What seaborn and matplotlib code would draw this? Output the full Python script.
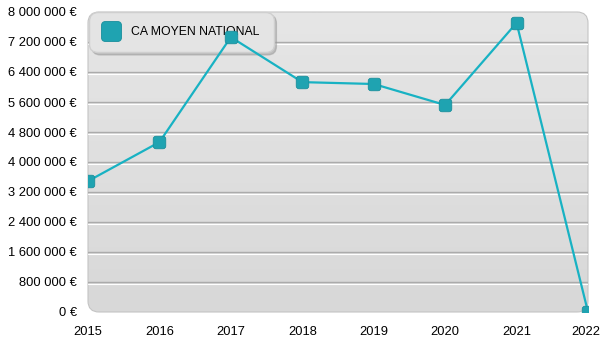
import numpy as np
import pandas as pd
import matplotlib
matplotlib.use("Agg")
import matplotlib.pyplot as plt
from matplotlib.patches import FancyBboxPatch, BoxStyle
from matplotlib.lines import Line2D
from matplotlib.ticker import FuncFormatter
from matplotlib.transforms import ScaledTranslation
import seaborn as sns

# Chiffre d'affaires moyen national par année
years = [2015, 2016, 2017, 2018, 2019, 2020, 2021, 2022]
ca_moyen = [3490000, 4530000, 7330000, 6130000, 6080000, 5520000, 7710000, 0]
series_label = "CA MOYEN NATIONAL"
y_ticks = [0, 800000, 1600000, 2400000, 3200000, 4000000, 4800000,
           5600000, 6400000, 7200000, 8000000]

df = pd.DataFrame({"annee": years, "ca": ca_moyen})

sns.set_theme(style="white")
plt.rcParams["font.family"] = ["Liberation Sans", "DejaVu Sans"]

LINE = "#18b2c3"
MARK = "#1fa3b1"
MARK_EDGE = "#1a8f9c"

fig = plt.figure(figsize=(6, 3.5), dpi=100)
W, H = 600, 350
ax = fig.add_axes([88 / W, 38 / H, 500 / W, 300 / H])
ax.patch.set_visible(False)

# rounded square marker
rsq = BoxStyle.Round(pad=0, rounding_size=0.22)(-0.5, -0.5, 1, 1, 1.0)

# rounded gradient plot background
bg = FancyBboxPatch((0, 0), 1, 1, boxstyle="round,pad=0,rounding_size=0.022",
                    mutation_aspect=500 / 300, transform=ax.transAxes,
                    facecolor="none", edgecolor="#c4c4c4", lw=0.8,
                    zorder=0.5, clip_on=False)
ax.add_patch(bg)
grad = np.linspace(0, 1, 256).reshape(-1, 1)
img = ax.imshow(grad, extent=[0, 1, 0, 1], transform=ax.transAxes,
                cmap=matplotlib.colors.LinearSegmentedColormap.from_list(
                    "bg", ["#d8d8d8", "#e6e6e6"]),
                origin="lower", aspect="auto", zorder=0.2)
img.set_clip_path(bg)

# horizontal grid: grey line with a white highlight beneath
shift = ScaledTranslation(0, -1.2 / 72, fig.dpi_scale_trans)
for v in y_ticks[1:-1]:
    ax.axhline(v, color="#ababab", lw=1.0, zorder=1)
    hl = ax.axhline(v, color="white", lw=0.8, zorder=0.9)
    hl.set_transform(hl.get_transform() + shift)

sns.lineplot(data=df, x="annee", y="ca", ax=ax, color=LINE, lw=1.6,
             marker=rsq, markersize=9, markerfacecolor=MARK,
             markeredgecolor=MARK_EDGE, markeredgewidth=0.6, zorder=3)

ax.set_xlim(2015, 2022)
ax.set_ylim(0, 8000000)
ax.set_xticks(years)
ax.set_yticks(y_ticks)
ax.yaxis.set_major_formatter(
    FuncFormatter(lambda v, p: f"{int(v):,} €".replace(",", " ")))
ax.tick_params(axis="y", length=0, pad=8, labelsize=9.3, labelcolor="black")
ax.tick_params(axis="x", length=0, pad=10, labelsize=9.3, labelcolor="black")
ax.set_xlabel("")
ax.set_ylabel("")
for s in ax.spines.values():
    s.set_visible(False)

# keep the last year label inside the canvas
last = ax.get_xticklabels()[-1]
last.set_transform(last.get_transform()
                   + ScaledTranslation(-2 / 100, 0, fig.dpi_scale_trans))

handle = Line2D([], [], linestyle="none", marker=rsq, markersize=14.5,
                markerfacecolor=MARK, markeredgecolor=MARK_EDGE,
                markeredgewidth=0.6)
leg = ax.legend([handle], [series_label], loc="upper left",
                bbox_to_anchor=(89 / W, 1 - 12 / H),
                bbox_transform=fig.transFigure, fontsize=8.8,
                frameon=True, fancybox=True, framealpha=1,
                facecolor="#e4e4e4", edgecolor="#cfcfcf",
                shadow={"color": "#9a9a9a", "alpha": 0.5},
                borderpad=1.15, handlelength=1.3, handletextpad=1.0,
                borderaxespad=0)
leg.get_frame().set_boxstyle("round,pad=0,rounding_size=0.7")
leg.set_zorder(2)
for t in leg.get_texts():
    t.set_color("black")

fig.savefig("out.png", dpi=100)
